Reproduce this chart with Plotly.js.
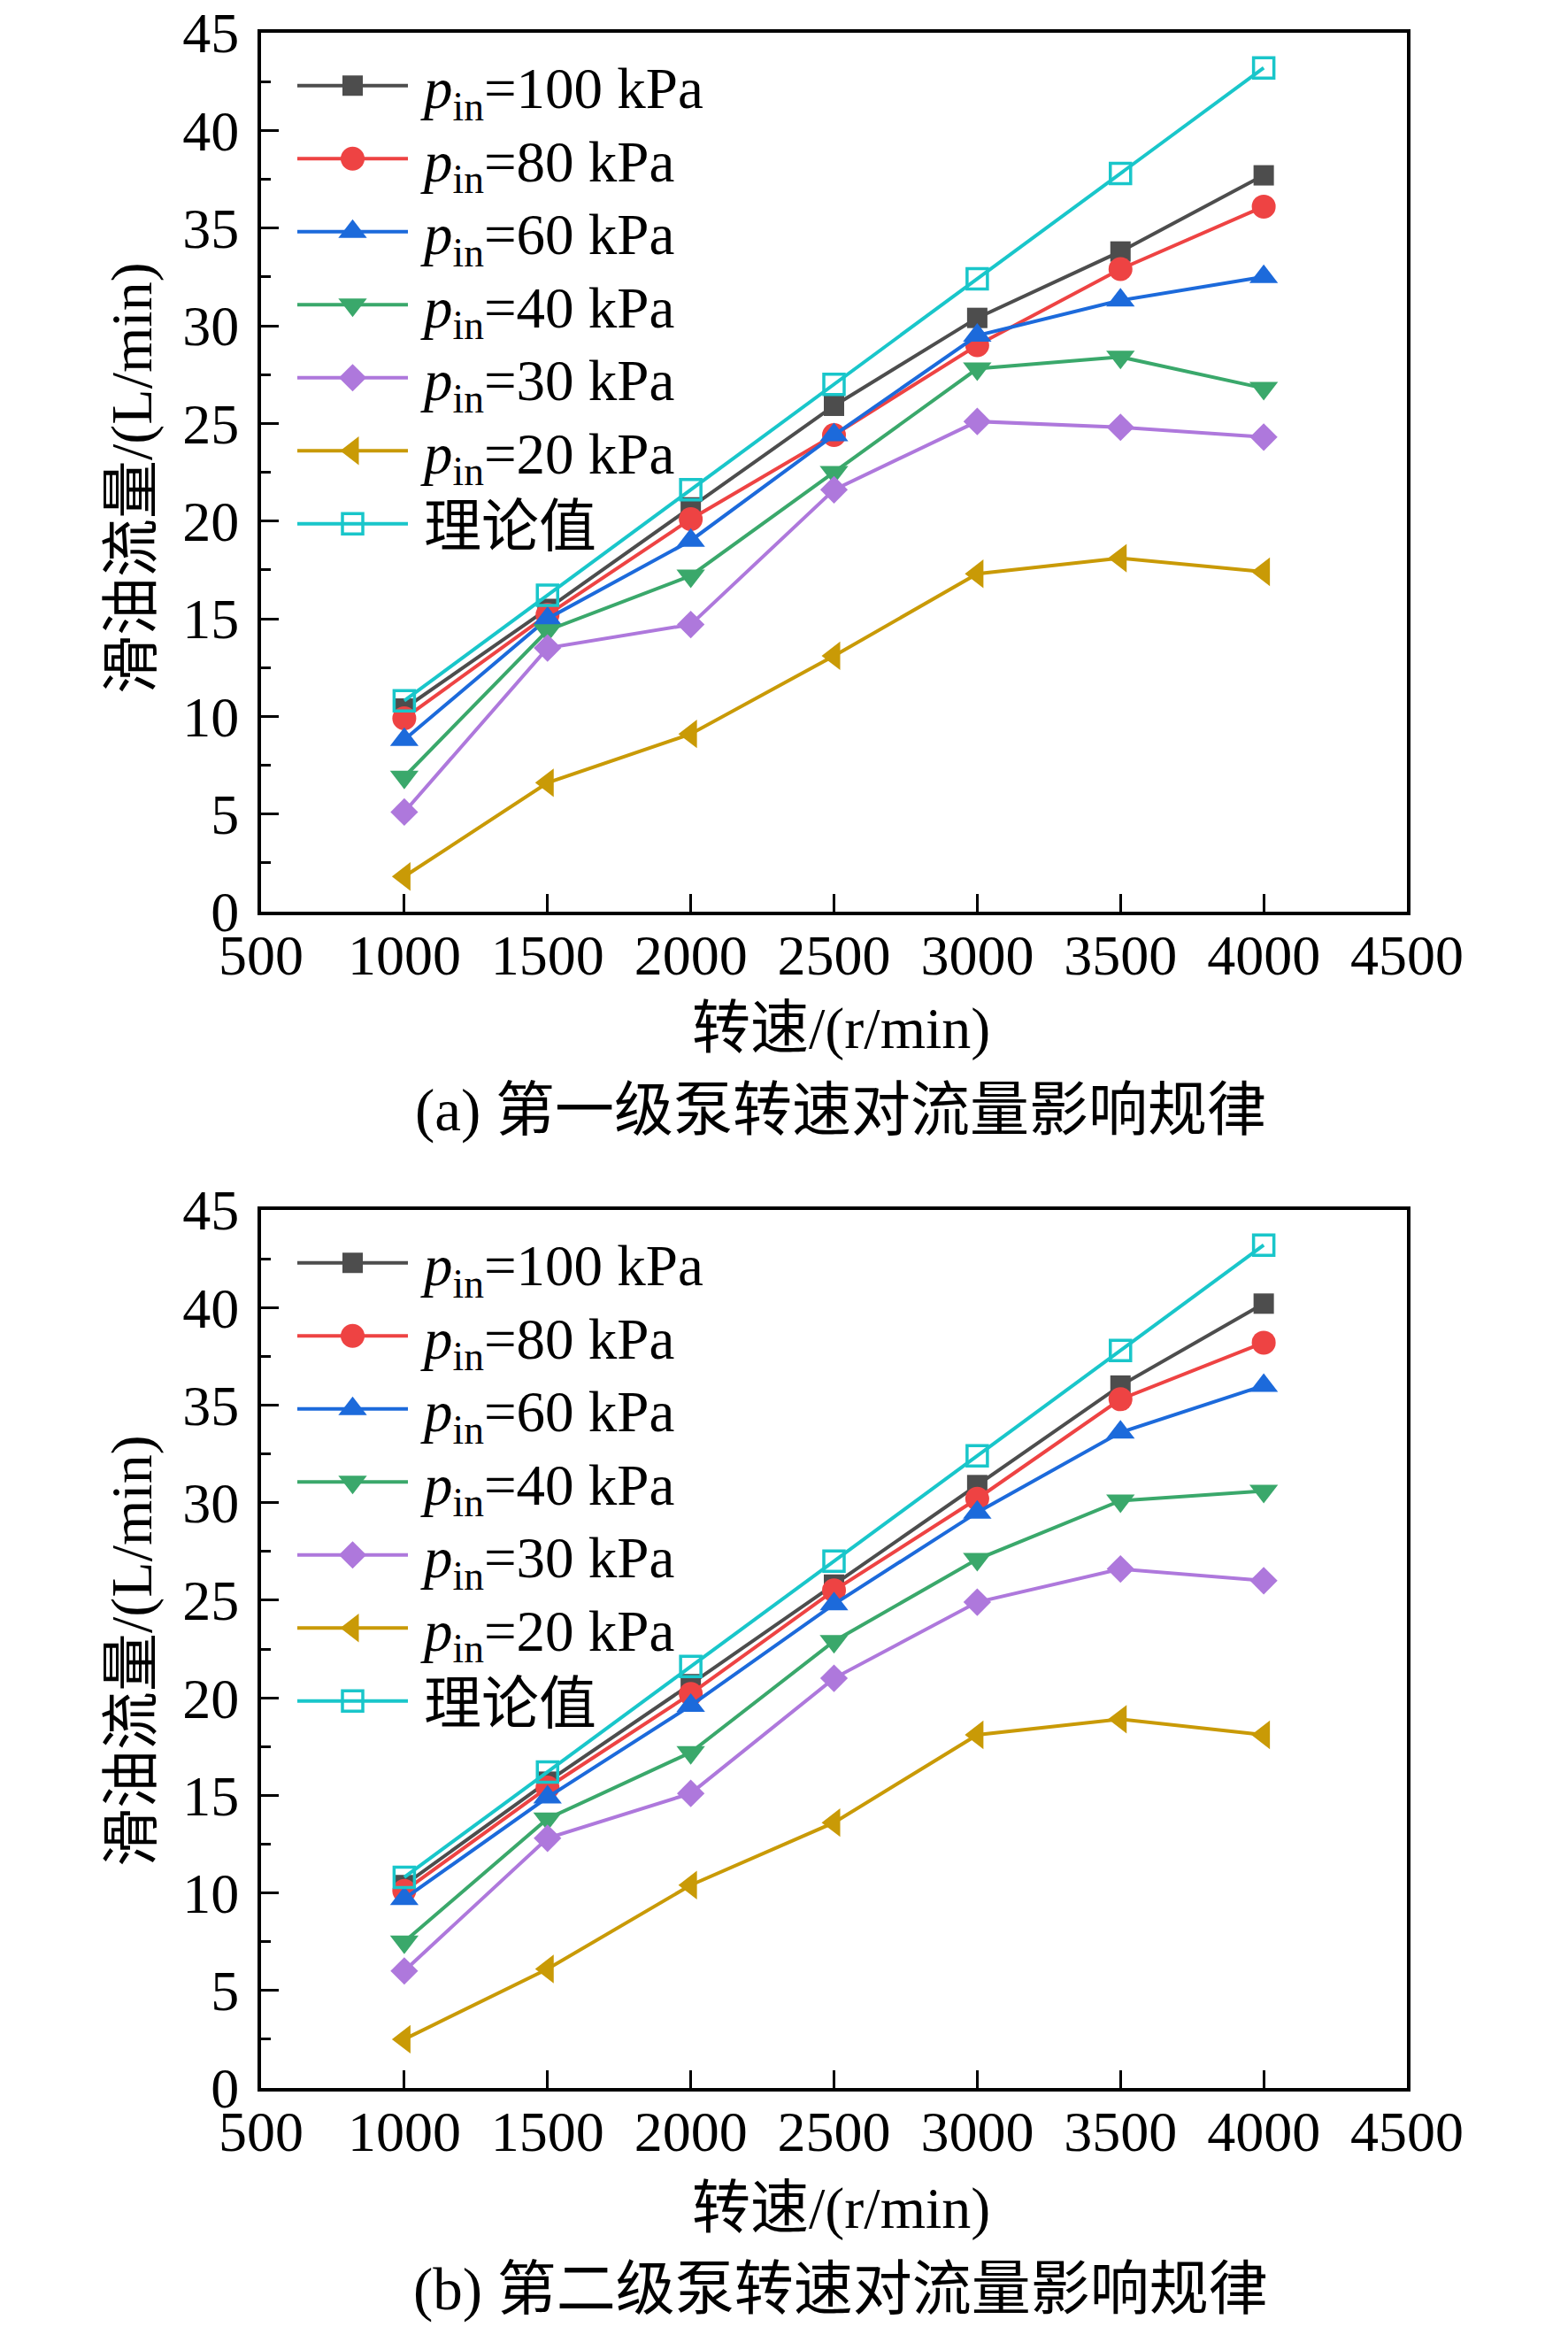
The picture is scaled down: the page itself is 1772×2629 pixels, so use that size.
<!DOCTYPE html>
<html>
<head>
<meta charset="utf-8">
<script src="https://cdn.plot.ly/plotly-3.0.1.min.js"></script>
<style>
  html, body { margin: 0; padding: 0; background: #fff; }
  #chart { width: 1772px; height: 2629px; }
</style>
</head>
<body>
<div id="chart"></div>
<script>
// Rotational speed (r/min) shared by both pump stages
const SPEED = [1000, 1500, 2000, 2500, 3000, 3500, 4000];

const NAMES = [
  "\u2009<i>p</i><sub>in</sub>=100 kPa",
  "\u2009<i>p</i><sub>in</sub>=80 kPa",
  "\u2009<i>p</i><sub>in</sub>=60 kPa",
  "\u2009<i>p</i><sub>in</sub>=40 kPa",
  "\u2009<i>p</i><sub>in</sub>=30 kPa",
  "\u2009<i>p</i><sub>in</sub>=20 kPa",
  "\u2009理论值",
];

// (a) first-stage pump, flow in L/min
const A_P100 = [10.4, 15.5, 20.7, 25.9, 30.4, 33.8, 37.7];
const A_P80  = [9.9, 15.2, 20.1, 24.4, 29.0, 32.9, 36.1];
const A_P60  = [8.8, 15.0, 19.0, 24.4, 29.5, 31.3, 32.5];
const A_P40  = [6.9, 14.4, 17.2, 22.5, 27.8, 28.4, 26.8];
const A_P30  = [5.1, 13.5, 14.7, 21.6, 25.1, 24.8, 24.3];
const A_P20  = [1.8, 6.6, 9.1, 13.1, 17.3, 18.1, 17.4];
const A_THEORY = [10.8, 16.2, 21.6, 27.0, 32.4, 37.8, 43.2];

// (b) second-stage pump, flow in L/min
const B_P100 = [10.4, 15.7, 20.7, 25.8, 30.9, 36.0, 40.2];
const B_P80  = [10.1, 15.4, 20.2, 25.5, 30.2, 35.3, 38.2];
const B_P60  = [9.7, 14.9, 19.6, 24.8, 29.5, 33.6, 36.0];
const B_P40  = [7.5, 13.8, 17.2, 22.9, 27.1, 30.1, 30.6];
const B_P30  = [6.0, 12.8, 15.1, 21.0, 24.9, 26.6, 26.0];
const B_P20  = [2.5, 6.1, 10.4, 13.6, 18.1, 18.9, 18.1];
const B_THEORY = [10.8, 16.2, 21.6, 27.0, 32.4, 37.8, 43.2];

const COLORS = ["#4d4d4d", "#ee4343", "#1c6adb", "#3aa86b", "#ae78dc", "#c99a06", "#19c6ca"];
const SYMBOLS = ["square", "circle", "triangle-up", "triangle-down", "diamond", "triangle-left", "square-open"];
const SIZES = [23, 27, 28, 28, 24, 28, 23];

const FONT = "Liberation Serif, Times New Roman, Noto Sans CJK SC, serif";
const W = 1772, H = 2629;
const LEGEND_ROW = 82.5; // px between legend entries

function series(vals, xa, ya, leg) {
  return vals.map((y, i) => ({
    x: SPEED, y, xaxis: xa, yaxis: ya, legend: leg,
    name: NAMES[i], type: "scatter", mode: "lines+markers",
    line: { color: COLORS[i], width: 4 },
    marker: { symbol: SYMBOLS[i], size: SIZES[i], color: COLORS[i],
              line: { color: COLORS[i], width: i === 6 ? 3.5 : 0 } },
  }));
}

const traces = [
  ...series([A_P100, A_P80, A_P60, A_P40, A_P30, A_P20, A_THEORY], "x", "y", "legend"),
  ...series([B_P100, B_P80, B_P60, B_P40, B_P30, B_P20, B_THEORY], "x2", "y2", "legend2"),
];

// pixel box -> paper domain
const px = (a, b) => [a / W, b / W];
const py = (top, bottom) => [1 - bottom / H, 1 - top / H];

const tickFont = { family: FONT, size: 64, color: "#000" };

function xAxis(anchor) {
  return {
    anchor, domain: px(295, 1590), range: [500, 4500], tick0: 500, dtick: 500,
    ticks: "inside", ticklen: 20, tickwidth: 3, tickcolor: "#000",
    showline: true, linewidth: 4, linecolor: "#000", mirror: true,
    showgrid: false, zeroline: false, tickfont: tickFont, ticklabelstandoff: -10,
  };
}
function yAxis(anchor, dom) {
  return {
    anchor, domain: dom, range: [0, 45], tick0: 0, dtick: 5,
    ticks: "inside", ticklen: 20, tickwidth: 3, tickcolor: "#000",
    minor: { dtick: 2.5, ticks: "inside", ticklen: 11, tickwidth: 3, tickcolor: "#000" },
    showline: true, linewidth: 4, linecolor: "#000", mirror: true,
    showgrid: false, zeroline: false, tickfont: tickFont, ticklabelstandoff: 8,
  };
}

function legendAt(topPx) {
  return {
    x: 331 / W, y: 1 - topPx / H, xanchor: "left", yanchor: "top",
    bgcolor: "rgba(0,0,0,0)", borderwidth: 0, itemwidth: 125,
    font: { family: FONT, size: 65, color: "#000" }, tracegroupgap: 0,
  };
}

const titleFont = { family: FONT, size: 66, color: "#000" };
const capFont = { family: FONT, size: 67, color: "#000" };
function note(text, xPx, yPx, font, angle) {
  return { text, xref: "paper", yref: "paper", x: xPx / W, y: 1 - yPx / H,
           xanchor: "center", yanchor: "middle", showarrow: false, font,
           textangle: angle || 0 };
}

const layout = {
  width: W, height: H, margin: { l: 0, r: 0, t: 0, b: 0 },
  paper_bgcolor: "#fff", plot_bgcolor: "#fff",
  font: { family: FONT, color: "#000" },
  xaxis: xAxis("y"), yaxis: yAxis("x", py(37, 1030)),
  xaxis2: xAxis("y2"), yaxis2: yAxis("x2", py(1367, 2359)),
  legend: legendAt(48), legend2: legendAt(1378),
  annotations: [
    note("滑油流量/(L/min)", 149, 540, titleFont, -90),
    note("转速/(r/min)", 950, 1162, titleFont),
    note("(a) 第一级泵转速对流量影响规律", 950, 1254, capFont),
    note("滑油流量/(L/min)", 149, 1865, titleFont, -90),
    note("转速/(r/min)", 950, 2495, titleFont),
    note("(b) 第二级泵转速对流量影响规律", 950, 2586, capFont),
  ],
};

Plotly.newPlot("chart", traces, layout, { displayModeBar: false, responsive: false }).then((gd) => {
  ["legend", "legend2"].forEach((cls) => {
    // legend symbols are capped at 16px by plotly; grow them back to the trace marker size
    gd.querySelectorAll("g." + cls + " g.legendpoints path.scatterpts").forEach((p, i) => {
      const t = p.getAttribute("transform") || "";
      p.setAttribute("transform", t + " scale(" + (SIZES[i % 7] / 16) + ")");
      p.style.vectorEffect = "non-scaling-stroke";
    });
    // tighter row pitch than plotly's 1.3 line height
    let y0 = null;
    gd.querySelectorAll("g." + cls + " g.traces").forEach((g, i) => {
      const m = /translate\(\s*([-\d.e]+)[ ,]+([-\d.e]+)\s*\)/.exec(g.getAttribute("transform") || "");
      if (!m) return;
      if (y0 === null) y0 = +m[2];
      g.setAttribute("transform", "translate(" + m[1] + "," + (y0 + i * LEGEND_ROW) + ")");
    });
  });
});
</script>
</body>
</html>
